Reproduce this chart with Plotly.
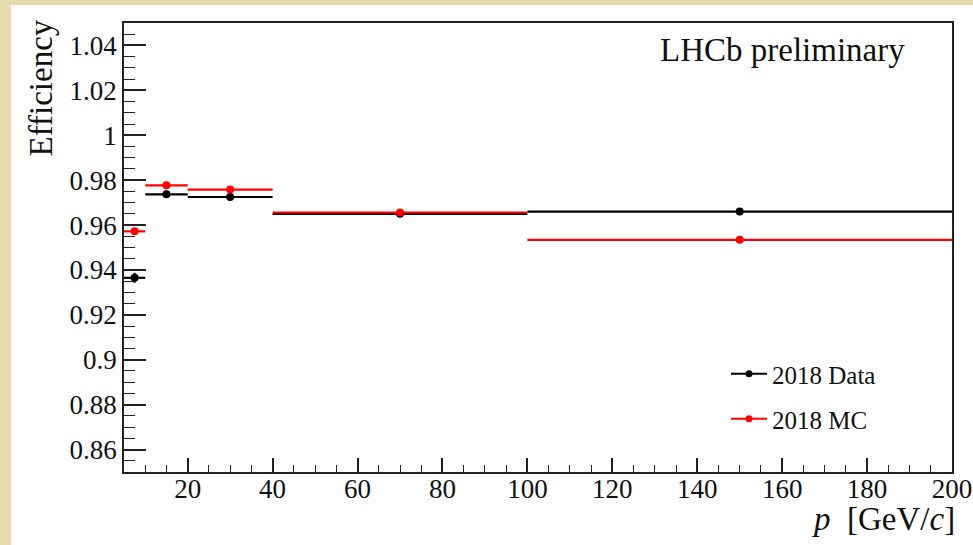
import plotly.graph_objects as go

# Data
bin_lo = [5, 10, 20, 40, 100]
bin_hi = [10, 20, 40, 100, 200]
p_centers = [7.5, 15, 30, 70, 150]
eff_data = [0.9365, 0.9737, 0.9725, 0.9650, 0.9660]
err_data = [0.0022, 0.0008, 0.0008, 0.0006, 0.0008]
eff_mc = [0.9572, 0.9777, 0.9758, 0.9656, 0.9534]
err_mc = [0.0010, 0.0006, 0.0006, 0.0004, 0.0005]

xp = [c - lo for c, lo in zip(p_centers, bin_lo)]
xm_ = [hi - c for c, hi in zip(p_centers, bin_hi)]

W, H = 973, 545
ML, MR, MT, MB = 124, 21, 23, 73
PW, PH = W - ML - MR, H - MT - MB

font = "Liberation Serif, Times New Roman, serif"

fig = go.Figure()

for name, y, e, col in [("2018 Data", eff_data, err_data, "#000000"),
                        ("2018 MC", eff_mc, err_mc, "#ff0000")]:
    fig.add_trace(go.Scatter(
        x=p_centers, y=y, mode="markers", name=name, showlegend=False,
        marker=dict(color=col, size=8, symbol="circle"),
        error_x=dict(type="data", symmetric=False, array=xm_, arrayminus=xp,
                     color=col, thickness=2.2, width=0),
        error_y=dict(type="data", array=e, color=col, thickness=2.2, width=0),
    ))

# legend-only traces (line + marker)
fig.add_trace(go.Scatter(x=[None], y=[None], mode="lines+markers", name="2018 Data",
                         line=dict(color="#000000", width=2),
                         marker=dict(color="#000000", size=7), legend="legend"))
fig.add_trace(go.Scatter(x=[None], y=[None], mode="lines+markers", name="2018 MC",
                         line=dict(color="#ff0000", width=2),
                         marker=dict(color="#ff0000", size=7), legend="legend2"))

def px2paper_x(px):
    return (px - ML) / PW

def px2paper_y(py):
    return (H - MB - py) / PH

axis_common = dict(
    showgrid=False, zeroline=False, showline=True, linecolor="#222222", linewidth=1.5,
    mirror=True, ticks="inside", tickcolor="#222222", tickwidth=1.5, automargin=False,
    tickfont=dict(family=font, size=27, color="#111111"),
)

beige = "#e8dcae"

fig.update_layout(
    width=W, height=H,
    margin=dict(l=ML, r=MR, t=MT, b=MB, pad=0),
    paper_bgcolor="white",
    plot_bgcolor="white",
    font=dict(family=font, color="#111111"),
    xaxis=dict(range=[5, 200], tickvals=[20, 40, 60, 80, 100, 120, 140, 160, 180, 200],
               ticklen=14, ticklabelstandoff=-8,
               minor=dict(ticks="inside", ticklen=7, dtick=5, tick0=0,
                          tickcolor="#222222", tickwidth=1.2),
               **axis_common),
    yaxis=dict(range=[0.85, 1.05],
               tickvals=[0.86, 0.88, 0.9, 0.92, 0.94, 0.96, 0.98, 1.0, 1.02, 1.04],
               ticktext=["0.86", "0.88", "0.9", "0.92", "0.94", "0.96", "0.98", "1", "1.02", "1.04"],
               ticklen=22, minor=dict(ticks="inside", ticklen=11, dtick=0.005, tick0=0,
                                      tickcolor="#222222", tickwidth=1.2),
               **axis_common),
    legend=dict(x=px2paper_x(726), y=px2paper_y(374), xanchor="left", yanchor="middle",
                bgcolor="rgba(0,0,0,0)", font=dict(family=font, size=25, color="#111111"),
                itemwidth=36),
    legend2=dict(x=px2paper_x(726), y=px2paper_y(419), xanchor="left", yanchor="middle",
                 bgcolor="rgba(0,0,0,0)", font=dict(family=font, size=25, color="#111111"),
                 itemwidth=36),
    shapes=[
        dict(type="rect", xref="paper", yref="paper",
             x0=px2paper_x(-5), x1=px2paper_x(11),
             y0=px2paper_y(H + 5), y1=px2paper_y(-5),
             fillcolor=beige, line=dict(width=0), layer="below"),
        dict(type="rect", xref="paper", yref="paper",
             x0=px2paper_x(-5), x1=px2paper_x(W + 5),
             y0=px2paper_y(5), y1=px2paper_y(-5),
             fillcolor=beige, line=dict(width=0), layer="below"),
    ],
    annotations=[
        dict(text="LHCb preliminary", xref="paper", yref="paper",
             x=px2paper_x(907), y=px2paper_y(50), xanchor="right", yanchor="middle",
             showarrow=False, font=dict(family=font, size=33, color="#111111")),
        dict(text="Efficiency", xref="paper", yref="paper",
             x=px2paper_x(41), y=px2paper_y(18), xanchor="center", yanchor="top",
             textangle=-90, showarrow=False,
             font=dict(family=font, size=33, color="#111111")),
        dict(text="<i>p</i>&nbsp;&nbsp;[GeV/<i>c</i>]", xref="paper", yref="paper",
             x=px2paper_x(957), y=px2paper_y(519), xanchor="right", yanchor="middle",
             showarrow=False, font=dict(family=font, size=33, color="#111111")),
    ],
)

fig.write_html("out.html",
               config={"displayModeBar": False},
               post_script="document.body.style.margin='0px';"
                           "document.body.style.background='#e8dcae';")
